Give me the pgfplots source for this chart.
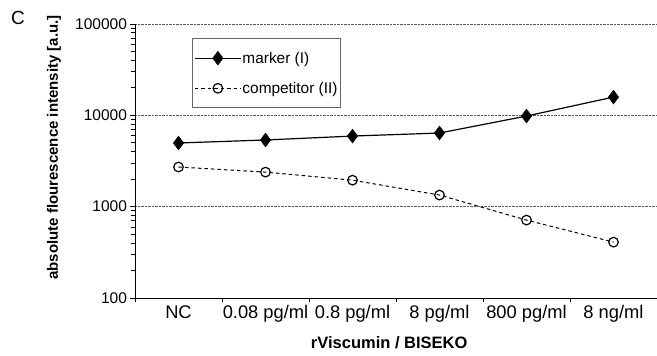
\documentclass[border=0pt]{standalone}
\usepackage{pgfplots}
\pgfplotsset{compat=1.18}
\usepackage{fontspec}
\setmainfont{Liberation Sans}
\begin{document}
\begin{tikzpicture}[x=1pt,y=1pt]
\useasboundingbox (-135,-58) rectangle (522,274+24);
\begin{axis}[
  at={(0,0)}, anchor=south west,
  scale only axis, width=522pt, height=274pt,
  ymode=log, ymin=100, ymax=100000,
  xmin=-0.5, xmax=5.5,
  xtick={0,...,5},
  xticklabels={NC, 0.08 pg/ml, 0.8 pg/ml, 8 pg/ml, 800 pg/ml, 8 ng/ml},
  minor xtick={-0.5,0.5,1.5,2.5,3.5,4.5,5.5},
  major x tick style={draw=none},
  minor x tick style={black, line width=0.8pt},
  minor tick length=4pt,
  major tick length=4.5pt,
  tick align=outside,
  axis x line*=bottom, axis y line*=left,
  axis line style={black, line width=0.9pt, -},
  ytick={100,1000,10000,100000},
  yticklabels={100,1000,10000,100000},
  ymajorgrids, major grid style={black!65, densely dotted, line width=0.6pt},
  y tick style={black, line width=0.8pt},
  /pgf/number format/assume math mode=true,
  yticklabel style={font=\fontsize{15.5}{18}\selectfont},
  xticklabel style={font=\fontsize{18.3}{22}\selectfont, anchor=base, yshift=-16pt},
  xlabel={\textbf{rViscumin / BISEKO}},
  xlabel style={font=\fontsize{16.5}{19}\selectfont, at={(axis description cs:0.487,-0.164)}, anchor=center},
  ylabel={\textbf{absolute flourescence intensity [a.u.]}},
  ylabel style={font=\fontsize{15}{18}\selectfont, at={(axis description cs:-0.155,0.549)}, anchor=center},
  clip=false,
  legend cell align=left,
  legend style={at={(axis description cs:0.109,0.949)}, anchor=north west,
    draw=black!60, line width=0.8pt, font=\fontsize{15.4}{19}\selectfont,
    inner xsep=2pt, inner ysep=13pt, row sep=17pt,
    nodes={inner xsep=1pt, inner ysep=0pt}},
  legend image code/.code={\draw[mark repeat=2,mark phase=2,#1] plot coordinates {(4pt,0pt) (27pt,0pt) (50pt,0pt)};},
]
\addplot[black, line width=1.2pt, mark=diamond*, mark size=6.8pt, mark options={solid, fill=black, line width=0.6pt}]
  coordinates {(0,4980) (1,5370) (2,5930) (3,6400) (4,9820) (5,15850)};
\addlegendentry{marker (I)}
\addplot[black, line width=1pt, dash pattern=on 3.5pt off 3pt, mark=o, mark size=4.8pt, mark options={solid, fill=white, line width=1.2pt}]
  coordinates {(0,2717) (1,2390) (2,1950) (3,1340) (4,713) (5,409)};
\addlegendentry{competitor (II)}
\end{axis}
\node[anchor=center, font=\fontsize{19}{22}\selectfont] at (-117,280) {C};
\end{tikzpicture}
\end{document}
